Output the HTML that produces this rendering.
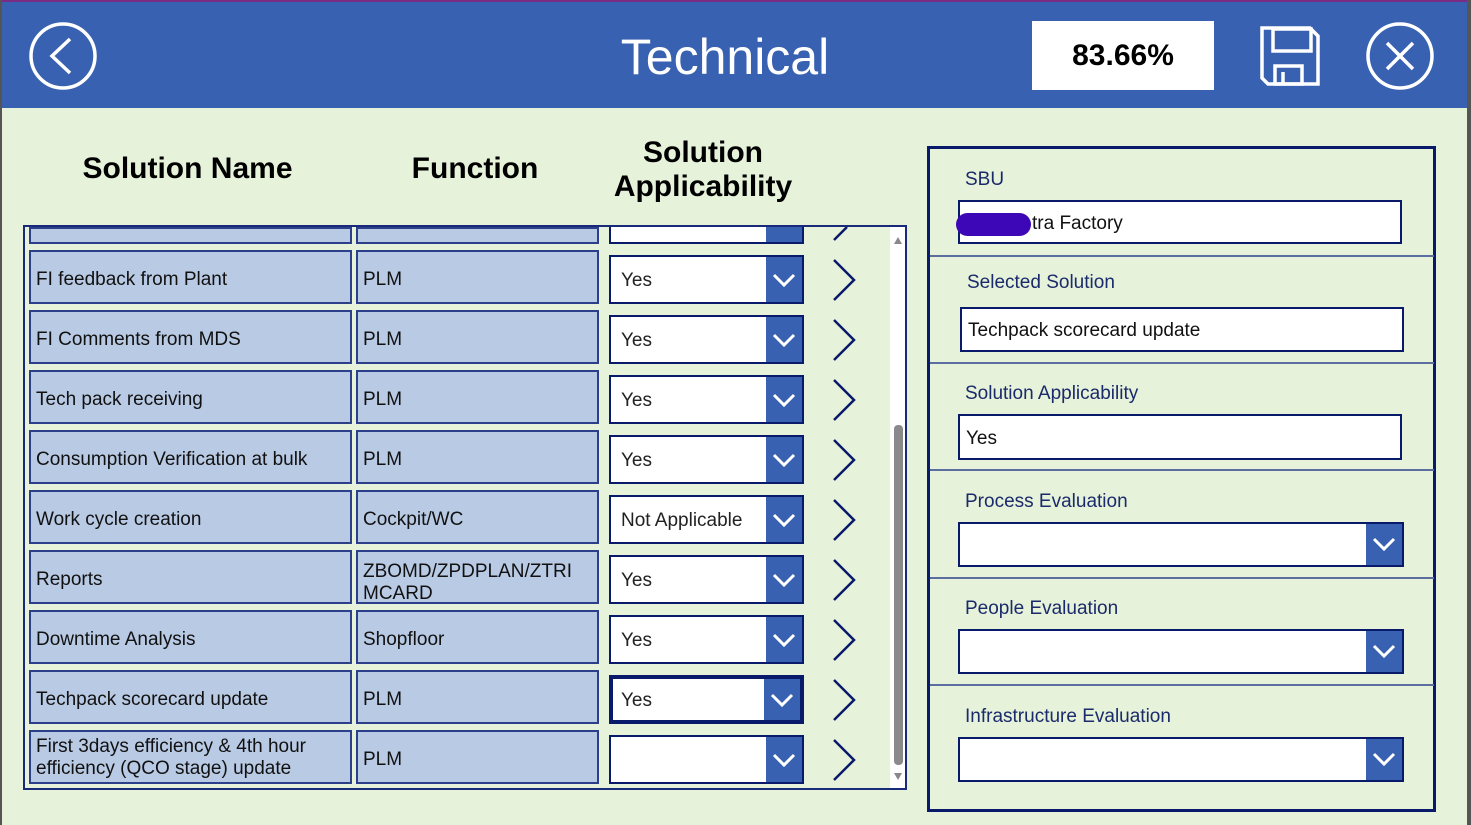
<!DOCTYPE html>
<html><head><meta charset="utf-8"><style>
*{box-sizing:border-box;margin:0;padding:0}
body{width:1471px;height:825px;position:relative;overflow:hidden;background:#e6f2d9;font-family:"Liberation Sans",sans-serif}
.a{position:absolute}
.hdr{left:0;top:0;width:1471px;height:108px;background:#3961b2;border-top:2px solid #7a2b84;border-left:2px solid #555}
.cell{position:absolute;background:#b9cae4;border:2px solid #2b3f8a;font-size:19px;color:#111;padding-left:5px;padding-top:5px;display:flex;align-items:center;line-height:22px}
.dd{position:absolute;background:#fff;border:2px solid #0a1a6b;font-size:19px;color:#222;padding-left:10px;padding-top:2px;display:flex;align-items:center}
.btn{position:absolute;right:0;top:0;bottom:0;width:36px;background:#3961b2}
.h{position:absolute;font-weight:bold;font-size:30px;color:#000;text-align:center}
.lbl{position:absolute;font-size:19px;color:#1a2a6b;margin-top:2px}
.inp{position:absolute;background:#fff;border:2px solid #0a1a6b;font-size:19px;color:#111;padding-left:6px;padding-top:3px;display:flex;align-items:center}
.sep{position:absolute;left:930px;width:504px;height:2px;background:#5a6fa0}
</style></head><body>
<div class="a hdr"></div>
<svg class="a" style="left:0;top:0" width="1471" height="110">
<circle cx="63" cy="56" r="32" fill="none" stroke="#fff" stroke-width="3.5"/>
<polyline points="70,39 52,56 70,73" fill="none" stroke="#fff" stroke-width="3.5"/>
<circle cx="1400" cy="56" r="32" fill="none" stroke="#fff" stroke-width="3.5"/>
<line x1="1387" y1="43" x2="1413" y2="69" stroke="#fff" stroke-width="3.5"/>
<line x1="1413" y1="43" x2="1387" y2="69" stroke="#fff" stroke-width="3.5"/>
<path d="M1262,28 H1310 L1318,36 V84 H1268 L1262,78 Z" fill="none" stroke="#fff" stroke-width="3.5"/>
<rect x="1273" y="29" width="38" height="22" fill="none" stroke="#fff" stroke-width="3.5"/>
<rect x="1275" y="66" width="27" height="18" fill="none" stroke="#fff" stroke-width="3.5"/>
<line x1="1283" y1="72" x2="1283" y2="84" stroke="#fff" stroke-width="3.5"/>
</svg>
<div class="a" style="left:560px;top:27px;width:330px;text-align:center;font-size:50px;color:#fff;line-height:60px">Technical</div>
<div class="a" style="left:1032px;top:21px;width:182px;height:69px;background:#fff;font-size:30px;font-weight:bold;display:flex;align-items:center;justify-content:center">83.66%</div>

<div class="h" style="left:60px;top:152px;width:255px">Solution Name</div>
<div class="h" style="left:390px;top:152px;width:170px">Function</div>
<div class="h" style="left:600px;top:136px;width:206px;line-height:34px">Solution<br>Applicability</div>

<div class="a" style="left:23px;top:225px;width:884px;height:565px;border:2px solid #1a2a7b;overflow:hidden">
<div class="a" style="left:865px;top:0;width:16px;height:561px;background:#fff"></div>
<div class="a" style="left:869px;top:198px;width:9px;height:340px;background:#8a8a8a;border-radius:4px"></div>
<svg class="a" style="left:866px;top:6px" width="14" height="550"><polygon points="3,11 7,4 11,11" fill="#888"/><polygon points="3,540 7,547 11,540" fill="#888"/></svg>
</div>
<div id="rows"></div>
<script>
var rows=[["","",""],["FI feedback from Plant","PLM","Yes"],["FI Comments from MDS","PLM","Yes"],["Tech pack receiving","PLM","Yes"],["Consumption Verification at bulk","PLM","Yes"],["Work cycle creation","Cockpit/WC","Not Applicable"],["Reports","ZBOMD/ZPDPLAN/ZTRI MCARD","Yes"],["Downtime Analysis","Shopfloor","Yes"],["Techpack scorecard update","PLM","Yes"],["First 3days efficiency &amp; 4th hour efficiency (QCO stage) update","PLM",""]];
var h="";
for(var i=0;i<rows.length;i++){
 var t=190+60*i, ht=54, dt=t+5, dh=49;
 var clipTop=(i==0);
 var st=clipTop?"top:227px;height:17px;":"top:"+t+"px;height:"+ht+"px;";
 var dst=clipTop?"top:227px;height:17px;border-top:none;":"top:"+dt+"px;height:"+dh+"px;";
 h+='<div class="cell" style="left:29px;width:323px;'+st+(i==9?'padding-top:2px;':'')+'">'+rows[i][0]+'</div>';
 h+='<div class="cell" style="left:356px;width:243px;'+st+(i==6?'padding-top:12px;':'')+'">'+rows[i][1]+'</div>';
 h+='<div class="dd" style="left:609px;width:195px;'+dst+(i==8?'border:4px solid #0a1a6b;padding-left:8px;':'')+'">'+rows[i][2]+'<div class="btn">'+(clipTop?'':'<svg width="36" height="45" style="position:absolute;left:0;top:50%;margin-top:-22px"><polyline points="8,17 18,27 28,17" fill="none" stroke="#fff" stroke-width="3"/></svg>')+'</div></div>';
 if(clipTop){h+='<svg class="a" style="left:830px;top:227px" width="30" height="14"><line x1="4" y1="13" x2="17" y2="0" stroke="#0a1a6b" stroke-width="2.5"/></svg>';}
 else{var cy=dt+dh/2;h+='<svg class="a" style="left:830px;top:'+(cy-22)+'px" width="30" height="44"><polyline points="4,2 24,22 4,42" fill="none" stroke="#0a1a6b" stroke-width="2.5"/></svg>';}
}
document.getElementById("rows").innerHTML=h;
</script>

<div class="a" style="left:927px;top:146px;width:509px;height:666px;border:3px solid #0a1a6b"></div>
<div class="sep" style="top:255px"></div>
<div class="sep" style="top:362px"></div>
<div class="sep" style="top:469px"></div>
<div class="sep" style="top:577px"></div>
<div class="sep" style="top:684px"></div>
<div class="lbl" style="left:965px;top:167px">SBU</div>
<div class="inp" style="left:958px;top:200px;width:444px;height:44px;padding-left:72px">tra Factory</div>
<div class="a" style="left:956px;top:213px;width:75px;height:23px;border-radius:12px;background:#3d07b8"></div>
<div class="lbl" style="left:967px;top:270px">Selected Solution</div>
<div class="inp" style="left:960px;top:307px;width:444px;height:45px">Techpack scorecard update</div>
<div class="lbl" style="left:965px;top:381px">Solution Applicability</div>
<div class="inp" style="left:958px;top:414px;width:444px;height:46px">Yes</div>
<div class="lbl" style="left:965px;top:489px">Process Evaluation</div>
<div class="inp" style="left:958px;top:522px;width:446px;height:45px"><div class="btn" style="width:36px"><svg width="36" height="41"><polyline points="8,15 18,25 28,15" fill="none" stroke="#fff" stroke-width="3"/></svg></div></div>
<div class="lbl" style="left:965px;top:596px">People Evaluation</div>
<div class="inp" style="left:958px;top:629px;width:446px;height:45px"><div class="btn" style="width:36px"><svg width="36" height="41"><polyline points="8,15 18,25 28,15" fill="none" stroke="#fff" stroke-width="3"/></svg></div></div>
<div class="lbl" style="left:965px;top:704px">Infrastructure Evaluation</div>
<div class="inp" style="left:958px;top:737px;width:446px;height:45px"><div class="btn" style="width:36px"><svg width="36" height="41"><polyline points="8,15 18,25 28,15" fill="none" stroke="#fff" stroke-width="3"/></svg></div></div>
<div class="a" style="left:1467px;top:0;width:4px;height:825px;background:#555"></div>
<div class="a" style="left:0;top:0;width:2px;height:825px;background:#555"></div>
</body></html>
